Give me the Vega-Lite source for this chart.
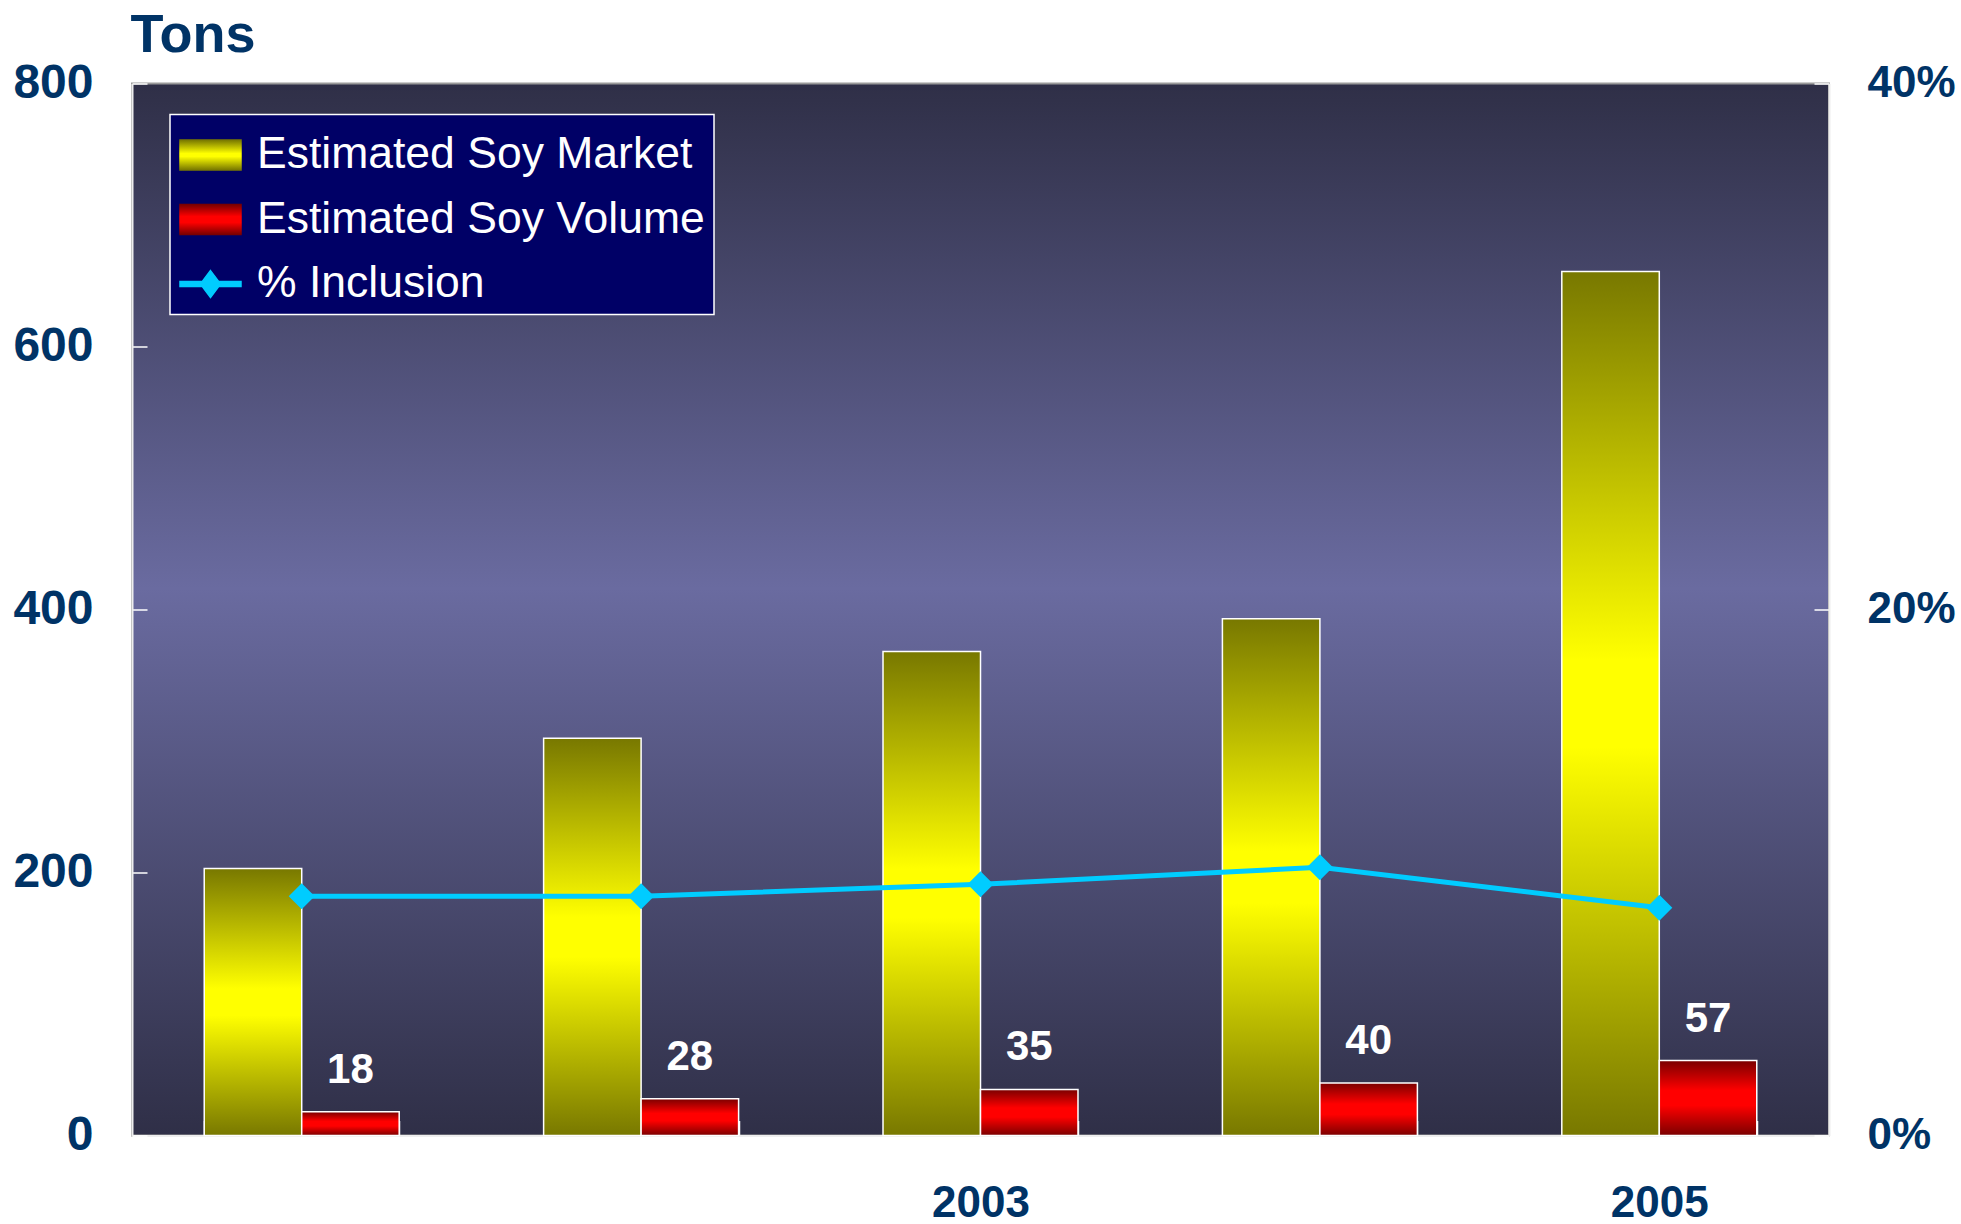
{
  "$schema": "https://vega.github.io/schema/vega-lite/v6.json",
  "width": 1697,
  "height": 1052,
  "autosize": {"type": "none"},
  "padding": {"left": 132, "top": 83.5, "right": 132, "bottom": 88.5},
  "background": "#ffffff",
  "config": {
    "view": {
      "stroke": "#9a9a9a",
      "strokeWidth": 2,
      "fill": {"gradient": "linear", "x1": 0, "y1": 0, "x2": 0, "y2": 1, "stops": [{"offset": 0, "color": "#2f2f47"}, {"offset": 0.48, "color": "#6a6ba0"}, {"offset": 1, "color": "#2f2f47"}]}
    },
    "font": "Liberation Sans",
    "axis": {
      "grid": false,
      "labelFont": "Liberation Sans",
      "labelFontWeight": "bold",
      "labelColor": "#003366",
      "tickColor": "#ffffff",
      "tickWidth": 1.5,
      "tickSize": -15,
      "domainColor": "#eeeeee",
      "domainWidth": 2
    },
    "legend": {
      "orient": "none",
      "legendX": 38,
      "legendY": 31,
      "fillColor": "#000066",
      "strokeColor": "#ffffff",
      "strokeWidth": 1.5,
      "padding": 9,
      "labelFont": "Liberation Sans",
      "labelFontSize": 44.5,
      "labelColor": "#ffffff",
      "labelLimit": 0,
      "labelOffset": 15,
      "symbolSize": 3721,
      "rowPadding": 11.5,
      "symbolOpacity": 1
    }
  },
  "datasets": {
    "bars": [
      {"year": "2001", "series": "Estimated Soy Market", "tons": 203},
      {"year": "2002", "series": "Estimated Soy Market", "tons": 302},
      {"year": "2003", "series": "Estimated Soy Market", "tons": 368},
      {"year": "2004", "series": "Estimated Soy Market", "tons": 393},
      {"year": "2005", "series": "Estimated Soy Market", "tons": 657},
      {"year": "2001", "series": "Estimated Soy Volume", "tons": 18},
      {"year": "2002", "series": "Estimated Soy Volume", "tons": 28},
      {"year": "2003", "series": "Estimated Soy Volume", "tons": 35},
      {"year": "2004", "series": "Estimated Soy Volume", "tons": 40},
      {"year": "2005", "series": "Estimated Soy Volume", "tons": 57}
    ],
    "inclusion": [
      {"year": "2001", "series": "% Inclusion", "pct": 0.091},
      {"year": "2002", "series": "% Inclusion", "pct": 0.091},
      {"year": "2003", "series": "% Inclusion", "pct": 0.0955},
      {"year": "2004", "series": "% Inclusion", "pct": 0.102},
      {"year": "2005", "series": "% Inclusion", "pct": 0.0866}
    ]
  },
  "layer": [
    {
      "data": {"name": "inclusion"},
      "transform": [{"filter": "false"}],
      "mark": {"type": "point", "filled": true, "opacity": 1},
      "encoding": {
        "color": {"field": "series", "type": "nominal", "legend": {"title": null}},
        "shape": {
          "field": "series", "type": "nominal",
          "scale": {
            "domain": ["Estimated Soy Market", "Estimated Soy Volume", "% Inclusion"],
            "range": ["M-1,-0.49H1V0.49H-1Z", "M-1,-0.49H1V0.49H-1Z", "M-1,-0.082H1V0.082H-1Z M0,-0.44L0.33,0L0,0.44L-0.33,0Z"]
          },
          "legend": {"title": null}
        }
      }
    },
    {
      "data": {"name": "bars"},
      "mark": {"type": "bar", "stroke": "#ffffff", "strokeWidth": 1.5},
      "encoding": {
        "x": {
          "field": "year", "type": "nominal",
          "scale": {"paddingInner": 0.4255, "paddingOuter": 0.2128},
          "axis": {
            "title": null,
            "labelAngle": 0,
            "labelExpr": "datum.label == '2003' || datum.label == '2005' ? datum.label : ''",
            "labelFontSize": 44,
            "labelPadding": 61,
            "tickBand": "extent"
          }
        },
        "xOffset": {
          "field": "series", "type": "nominal",
          "scale": {"domain": ["Estimated Soy Market", "Estimated Soy Volume"], "paddingInner": 0, "paddingOuter": 0}
        },
        "y": {
          "field": "tons", "type": "quantitative",
          "scale": {"domain": [0, 800], "nice": false},
          "axis": {
            "values": [0, 200, 400, 600, 800],
            "labelFontSize": 48,
            "labelPadding": 54,
            "title": "Tons",
            "titleAngle": 0,
            "titleX": -2,
            "titleY": -32,
            "titleAlign": "left",
            "titleBaseline": "alphabetic",
            "titleFontSize": 54,
            "titleFontWeight": "bold",
            "titleColor": "#003366",
            "titleFont": "Liberation Sans"
          }
        },
        "color": {
          "field": "series", "type": "nominal",
          "scale": {
            "domain": ["Estimated Soy Market", "Estimated Soy Volume", "% Inclusion"],
            "range": [
              {"expr": "{gradient:'linear',x1:0,y1:0,x2:0,y2:1,stops:[{offset:0,color:'#787800'},{offset:0.45,color:'#ffff00'},{offset:0.55,color:'#ffff00'},{offset:1,color:'#787800'}]}"},
              {"expr": "{gradient:'linear',x1:0,y1:0,x2:0,y2:1,stops:[{offset:0,color:'#7a0000'},{offset:0.4,color:'#ff0000'},{offset:0.6,color:'#ff0000'},{offset:1,color:'#7a0000'}]}"},
              "#00ccff"
            ]
          },
          "legend": null
        }
      }
    },
    {
      "data": {"name": "bars"},
      "transform": [{"filter": "datum.series === 'Estimated Soy Volume'"}],
      "mark": {"type": "text", "baseline": "alphabetic", "dy": -29, "fontSize": 42, "fontWeight": "bold", "color": "#ffffff", "font": "Liberation Sans"},
      "encoding": {
        "x": {"field": "year", "type": "nominal"},
        "xOffset": {"field": "series", "type": "nominal", "scale": {"domain": ["Estimated Soy Market", "Estimated Soy Volume"]}},
        "y": {"field": "tons", "type": "quantitative", "scale": {"domain": [0, 800], "nice": false}, "axis": null},
        "text": {"field": "tons", "type": "quantitative"}
      }
    },
    {
      "data": {"name": "inclusion"},
      "mark": {"type": "line", "strokeWidth": 5, "point": {"shape": "diamond", "size": 676, "filled": true, "fill": "#00ccff", "opacity": 1}},
      "encoding": {
        "x": {"field": "year", "type": "nominal"},
        "y": {
          "field": "pct", "type": "quantitative",
          "scale": {"domain": [0, 0.4], "nice": false},
          "axis": {"orient": "right", "values": [0, 0.2, 0.4], "format": ".0%", "labelFontSize": 44, "labelPadding": 53, "title": null}
        },
        "color": {"field": "series", "type": "nominal", "legend": null}
      }
    }
  ],
  "resolve": {"scale": {"y": "independent"}}
}
